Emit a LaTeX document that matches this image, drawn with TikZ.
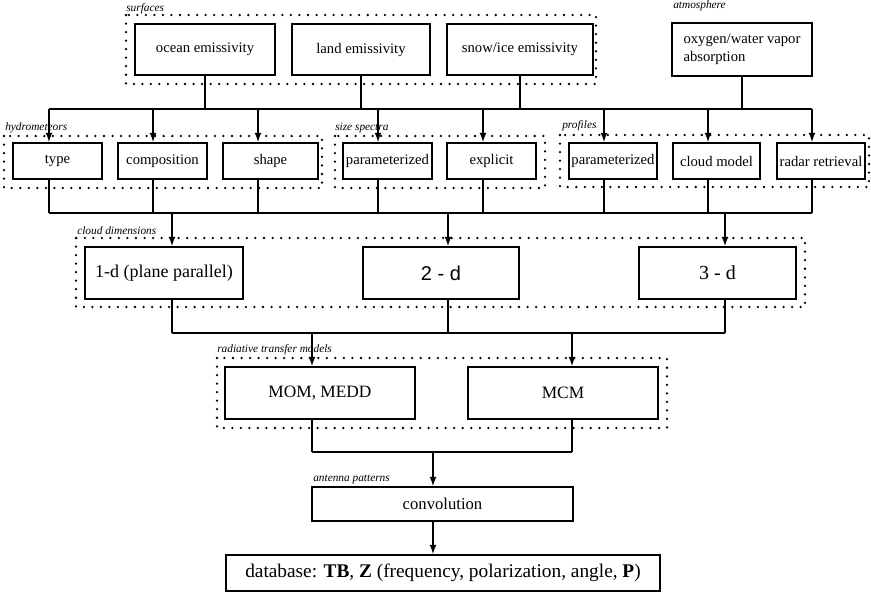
\documentclass[tikz,border=0pt]{standalone}
\usepackage{fontspec}
\setmainfont{Liberation Serif}
\newfontfamily\dimsans{Liberation Sans}

\tikzset{
  box/.style={draw, line width=1.6pt, inner sep=0pt,
    font=\fontsize{11}{13.5}\selectfont},
  wh/.style 2 args={minimum width=#1*0.75pt, minimum height=#2*0.75pt},
  grp/.style={line width=1.9pt, line cap=round, dash pattern=on 0pt off 6.4pt},
  grplabel/.style={anchor=base west, inner sep=0pt,
    font=\fontsize{8.5}{10}\selectfont\itshape},
  link/.style={line width=1.35pt},
}

\begin{document}
\begin{tikzpicture}[x=0.75pt, y=-0.75pt, >=latex]
  \useasboundingbox (0,0) rectangle (871,594);

  % surfaces / atmosphere
  \draw[grp] (126,15) rectangle (596,84);
  \node[grplabel] (lsurf) at (126,11) {surfaces};
  \node[grplabel] (latmo) at (673,8) {atmosphere};
  \node[box, wh={140}{51}] (ocean) at (205,49.5) {ocean emissivity};
  \node[box, wh={138}{51}] (land) at (361,49.5) {land emissivity};
  \node[box, wh={146}{51}] (snow) at (520,49.5) {snow/ice emissivity};
  \node[box, wh={140}{53}, align=left] (atmo) at (742,49.5)
    {oxygen/water vapor\\absorption};

  % hydrometeors, size spectra, profiles
  \draw[grp] (4,136) rectangle (322,188);
  \draw[grp] (335,136) rectangle (545,188);
  \draw[grp] (560,135) rectangle (869,187);
  \node[grplabel] (lhydro) at (5,130) {hydrometeors};
  \node[grplabel] (lsize) at (335,130) {size spectra};
  \node[grplabel] (lprof) at (562,128) {profiles};
  \node[box, wh={89}{36}] (type) at (57.5,161) {type};
  \node[box, wh={89}{36}] (compo) at (162.5,161) {composition};
  \node[box, wh={95}{36}] (shape) at (270.5,161) {shape};
  \node[box, wh={89}{36}] (psize) at (387.5,161) {parameterized};
  \node[box, wh={89}{36}] (expl) at (491.5,161) {explicit};
  \node[box, wh={88}{36}] (pprof) at (613,161) {parameterized};
  \node[box, wh={87}{36}] (cmodel) at (716.5,161) {cloud model};
  \node[box, wh={88}{36}] (radar) at (821,161) {radar retrieval};

  % cloud dimensions
  \draw[grp] (76,238) rectangle (805,307);
  \node[grplabel] (ldims) at (77,234) {cloud dimensions};
  \node[box, wh={158}{52}, font=\fontsize{13.5}{15}\selectfont] (dim1) at (164,273)
    {1-d (plane parallel)};
  \node[box, wh={156}{52}, font=\fontsize{15}{17}\dimsans] (dim2) at (441,273) {2 - d};
  \node[box, wh={157}{52}, font=\fontsize{15}{17}\selectfont] (dim3) at (717.5,273) {3 - d};

  % radiative transfer models
  \draw[grp] (217,358) rectangle (667,428);
  \node[grplabel] (lrt) at (217,352) {radiative transfer models};
  \node[box, wh={190}{52}, font=\fontsize{13}{15}\selectfont] (mom) at (320,393) {MOM, MEDD};
  \node[box, wh={190}{52}, font=\fontsize{13}{15}\selectfont] (mcm) at (563,393) {MCM};

  % antenna patterns, database
  \node[grplabel] (lant) at (313,481) {antenna patterns};
  \node[box, wh={261}{34}, font=\fontsize{12.5}{15}\selectfont] (conv) at (442.5,504) {convolution};
  \node[box, wh={434}{36}, font=\fontsize{14.5}{17}\selectfont] (db) at (443,573)
    {database: \textbf{TB}, \textbf{Z} (frequency, polarization, angle, \textbf{P})};

  % connectors
  \foreach \n in {ocean,land,snow,atmo}
    \draw[link] (\n.south) -- (\n.south |- 0,109);
  \draw[link] (49,109) -- (812,109);
  \foreach \n/\x in {type/49,compo/153,shape/258,psize/378,expl/483,pprof/604,cmodel/708,radar/812}{
    \draw[link,->] (\x,109) -- (\x,0 |- \n.north);
    \draw[link] (\x,0 |- \n.south) -- (\x,213);
  }
  \draw[link] (49,213) -- (812,213);
  \foreach \n/\x in {dim1/172,dim2/448,dim3/725}{
    \draw[link,->] (\x,213) -- (\x,0 |- \n.north);
    \draw[link] (\x,0 |- \n.south) -- (\x,333);
  }
  \draw[link] (172,333) -- (725,333);
  \foreach \n/\x in {mom/312,mcm/572}{
    \draw[link,->] (\x,333) -- (\x,0 |- \n.north);
    \draw[link] (\x,0 |- \n.south) -- (\x,452);
  }
  \draw[link] (312,452) -- (572,452);
  \draw[link,->] (433,452) -- (433,0 |- conv.north);
  \draw[link,->] (433,0 |- conv.south) -- (433,0 |- db.north);
\end{tikzpicture}
\end{document}
